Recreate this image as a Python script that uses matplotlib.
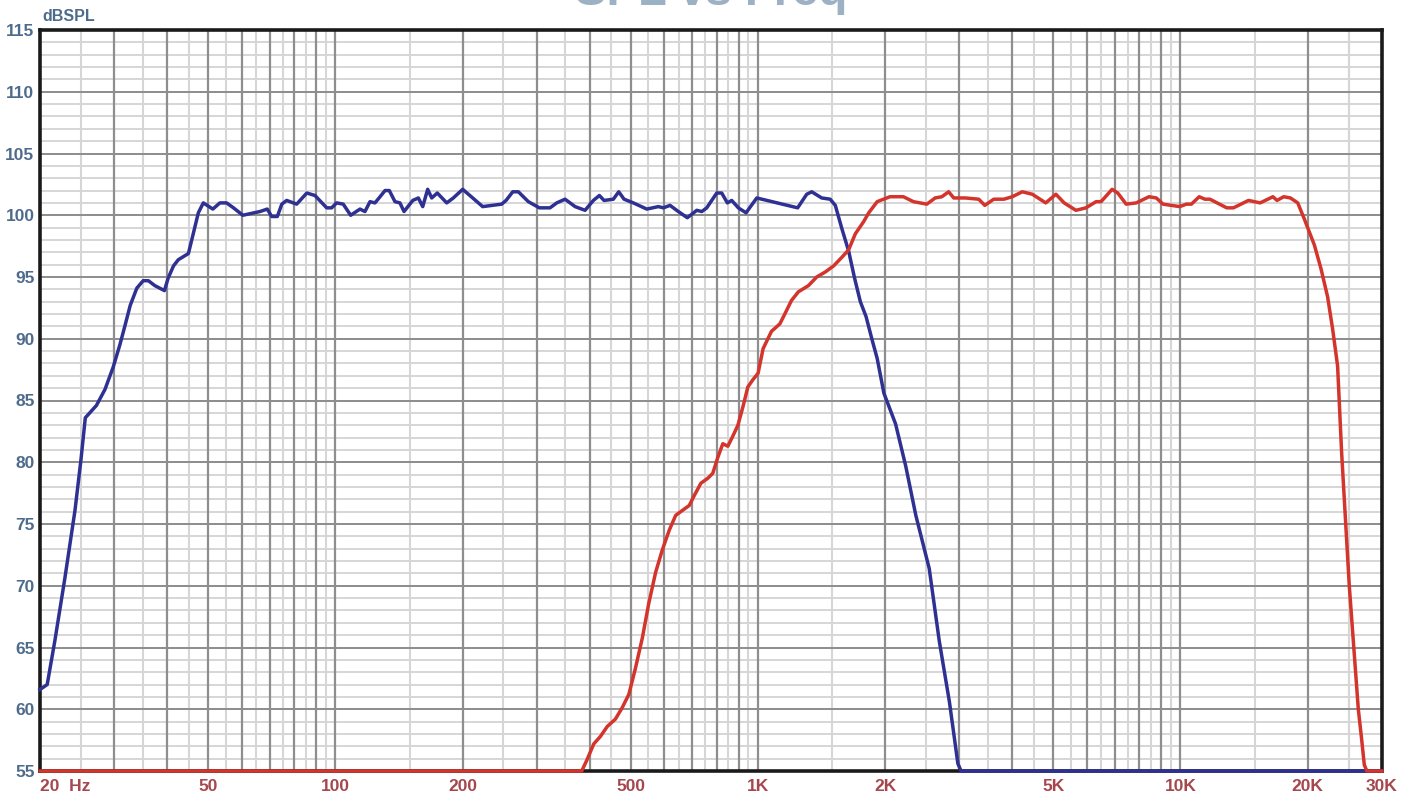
import matplotlib.pyplot as plt
from matplotlib.ticker import NullLocator

plt.rcParams['font.family'] = ['Liberation Sans', 'DejaVu Sans']

# Woofer response (blue)
woofer_freq = [20.0, 20.8, 21.7, 22.9, 24.2, 25.0, 25.6, 27.2, 28.5, 29.8, 30.9, 31.8, 32.7, 33.9,
               35.1, 36.1, 37.4, 39.4, 40.2, 41.4, 42.5, 44.9, 46.1, 47.4, 48.7, 51.3, 53.3, 55.3,
               57.4, 60.4, 66.3, 69.0, 70.7, 72.9, 74.7, 76.7, 81.0, 85.6, 89.5, 95.4, 98.0, 100.7,
               104.4, 108.7, 114.4, 117.5, 120.8, 124.1, 127.6, 131.1, 134.2, 138.4, 142.2, 145.4,
               152.5, 157.2, 161.0, 165.4, 169.1, 174.3, 183.5, 190.2, 200.2, 211.4, 223.2, 247.6,
               253.5, 263.0, 271.1, 286.3, 304.0, 322.2, 334.2, 349.7, 369.3, 390.0, 408.0, 421.6,
               432.4, 454.9, 468.5, 482.3, 507.4, 545.8, 581.5, 597.6, 619.6, 648.3, 680.8, 716.8,
               736.6, 756.8, 799.2, 821.2, 846.8, 867.3, 899.0, 937.6, 994.0, 1242, 1305, 1341,
               1416, 1483, 1525, 1581, 1640, 1694, 1748, 1803, 1864, 1916, 1987, 2118, 2238, 2365,
               2544, 2688, 2840, 2974, 3026, 30000]
woofer_db = [61.6, 62.0, 65.6, 70.6, 76.1, 80.2, 83.6, 84.6, 85.9, 87.7, 89.5, 91.1, 92.7, 94.1,
             94.7, 94.7, 94.3, 93.9, 94.9, 95.9, 96.4, 96.9, 98.5, 100.2, 101.0, 100.5, 101.0, 101.0,
             100.6, 100.0, 100.3, 100.5, 99.9, 99.9, 100.9, 101.2, 100.9, 101.8, 101.6, 100.6, 100.6, 101.0,
             100.9, 100.0, 100.5, 100.3, 101.1, 101.0, 101.5, 102.0, 102.0, 101.1, 101.0, 100.3,
             101.2, 101.4, 100.7, 102.1, 101.4, 101.8, 101.0, 101.4, 102.1, 101.4, 100.7, 100.9,
             101.2, 101.9, 101.9, 101.1, 100.6, 100.6, 101.0, 101.3, 100.7, 100.4, 101.2, 101.6,
             101.2, 101.3, 101.9, 101.3, 101.0, 100.5, 100.7, 100.6, 100.8, 100.3, 99.8, 100.4,
             100.3, 100.6, 101.8, 101.8, 101.0, 101.2, 100.6, 100.2, 101.4, 100.6, 101.7, 101.9,
             101.4, 101.3, 100.8, 98.9, 97.1, 94.9, 93.0, 91.8, 89.9, 88.4, 85.6, 83.1, 79.7, 75.7,
             71.4, 65.5, 60.6, 55.6, 55.0, 55.0]

# Tweeter response (red)
tweeter_freq = [20, 383, 394, 409, 424, 440, 460, 477, 495, 513, 533, 552, 573, 594, 617, 639,
                669, 688, 707, 733, 761, 782, 804, 826, 849, 872, 897, 922, 947, 974, 1001, 1029,
                1077, 1127, 1158, 1201, 1247, 1317, 1378, 1443, 1511, 1581, 1640, 1701, 1781, 1830,
                1916, 2054, 2210, 2334, 2511, 2628, 2726, 2828, 2908, 3098, 3332, 3444, 3616, 3822,
                4000, 4224, 4463, 4800, 5074, 5308, 5658, 5978, 6316, 6490, 6892, 7108, 7442, 7862,
                8428, 8770, 9096, 9962, 10332, 10618, 11078, 11428, 11744, 12872, 13352, 14492,
                15446, 16556, 16930, 17560, 18214, 18956, 19644, 20746, 21504, 22302, 22920, 23552,
                24074, 25100, 26366, 26844, 27240, 27626, 30000]
tweeter_db = [55.0, 55.0, 55.9, 57.2, 57.8, 58.6, 59.2, 60.1, 61.2, 63.3, 65.8, 68.6, 71.1, 72.9,
              74.5, 75.7, 76.2, 76.5, 77.3, 78.3, 78.7, 79.1, 80.4, 81.5, 81.3, 82.1, 83.0, 84.5,
              86.1, 86.7, 87.2, 89.2, 90.6, 91.2, 92.0, 93.1, 93.8, 94.3, 95.0, 95.4, 95.9, 96.6,
              97.2, 98.5, 99.5, 100.2, 101.1, 101.5, 101.5, 101.1, 100.9, 101.4, 101.5, 101.9,
              101.4, 101.4, 101.3, 100.8, 101.3, 101.3, 101.5, 101.9, 101.7, 101.0, 101.7, 101.0,
              100.4, 100.6, 101.1, 101.1, 102.1, 101.8, 100.9, 101.0, 101.5, 101.4, 100.9, 100.7,
              100.9, 100.9, 101.5, 101.3, 101.3, 100.6, 100.6, 101.2, 101.0, 101.5, 101.2, 101.5,
              101.4, 101.0, 99.7, 97.6, 95.7, 93.4, 90.8, 87.8, 80.8, 70.0, 60.0, 57.6, 55.5,
              55.0, 55.0]

xtick_vals = [20, 50, 100, 200, 500, 1000, 2000, 5000, 10000, 20000, 30000]
xtick_labels = ["20  Hz", "50", "100", "200", "500", "1K", "2K", "5K", "10K", "20K", "30K"]
ytick_vals = list(range(55, 116, 5))

fig = plt.figure(figsize=(14.13, 7.99), dpi=100)
ax = fig.add_axes([40 / 1413, 28 / 799, 1342 / 1413, 741 / 799])

ax.set_xscale('log')
ax.set_xlim(20, 30000)
ax.set_ylim(55, 115)
ax.xaxis.set_minor_locator(NullLocator())

# grid: 1 dB light lines, 5 dB darker lines
for d in range(55, 116):
    ax.axhline(d, color='#d6d6d6', lw=1.4, zorder=1)
for d in ytick_vals:
    ax.axhline(d, color='#8e8e8e', lw=1.4, zorder=1.2)

dark_lines = []
light_lines = [25]
for dec in [10, 100, 1000, 10000]:
    for m in range(2, 11):
        f = m * dec
        if 20 < f < 30000:
            dark_lines.append(f)
        g = (m - 0.5) * dec
        if 20 < g < 30000 and m > 1 and dec > 10:
            light_lines.append(g)
for m in range(3, 10):
    light_lines.append(m * 10 + 5)
light_lines.append(25000)
for f in light_lines:
    ax.axvline(f, color='#d6d6d6', lw=1.5, zorder=1.1)
for f in dark_lines:
    ax.axvline(f, color='#8e8e8e', lw=1.6, zorder=1.2)

ax.plot(woofer_freq, woofer_db, color='#2e3192', lw=2.5, zorder=3, clip_on=False)
ax.plot(tweeter_freq, tweeter_db, color='#d3342c', lw=2.5, zorder=3.1, clip_on=False)

for s in ax.spines.values():
    s.set_color('#1a1a1a')
    s.set_linewidth(2.6)

ax.set_xticks(xtick_vals, xtick_labels)
ax.set_yticks(ytick_vals)
ax.tick_params(axis='x', length=0, pad=6, labelsize=12.5, labelcolor='#a5474d')
ax.tick_params(axis='y', length=0, pad=4, labelsize=12.5, labelcolor='#4f6b8c')
for lab in ax.get_xticklabels() + ax.get_yticklabels():
    lab.set_fontweight('bold')
ax.get_xticklabels()[0].set_horizontalalignment('left')

fig.text(42 / 1413, 1 - 21 / 799, "dBSPL", fontsize=11.5, fontweight='bold',
         color='#4f6b8c', va='baseline')
fig.text(711 / 1413, 1 - 5 / 799, "SPL vs Freq", fontsize=34, fontweight='bold',
         color='#9db1c4', ha='center', va='baseline')

fig.savefig("out.png", dpi=100)
